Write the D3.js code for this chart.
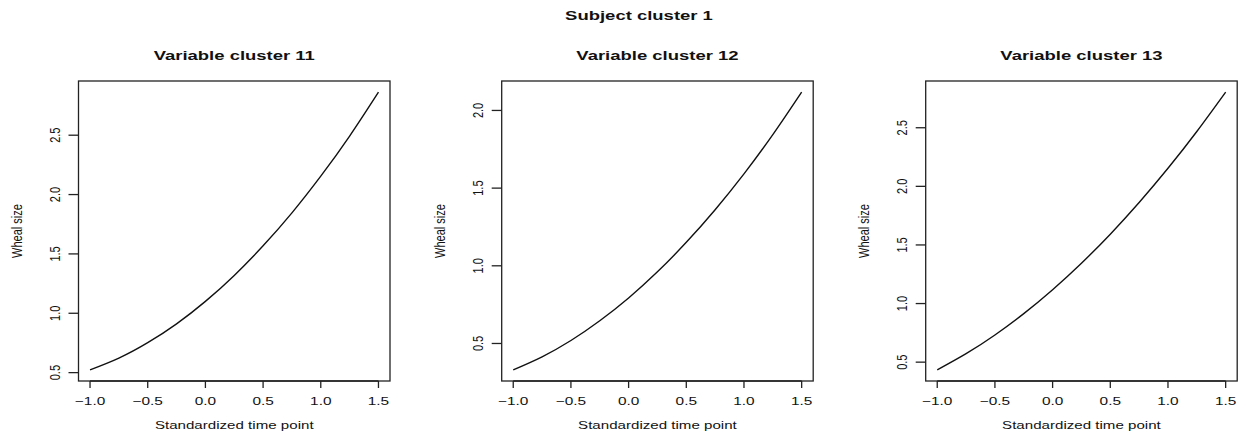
<!DOCTYPE html>
<html><head><meta charset="utf-8">
<script src="https://cdn.jsdelivr.net/npm/d3@7"></script>
<style>
body{margin:0;background:#fff;}
text{font-family:"Liberation Sans",Arial,Helvetica,sans-serif;fill:#111;}
</style></head>
<body><svg id="chart" width="1252" height="441"></svg>
<script>
// ---- data ----
const timePoints = [-1.0, -0.75, -0.5, -0.25, 0.0, 0.25, 0.5, 0.75, 1.0, 1.25, 1.5];
const panelTitles = ["Variable cluster 11", "Variable cluster 12", "Variable cluster 13"];
const wheal11 = [0.523, 0.622, 0.752, 0.911, 1.100, 1.319, 1.568, 1.846, 2.155, 2.493, 2.863];
const wheal12 = [0.330, 0.414, 0.519, 0.646, 0.793, 0.961, 1.151, 1.361, 1.592, 1.844, 2.118];
const wheal13 = [0.434, 0.572, 0.732, 0.914, 1.118, 1.344, 1.592, 1.862, 2.154, 2.468, 2.804];
const xTickValues = [-1.0, -0.5, 0.0, 0.5, 1.0, 1.5];
const yTickValues11 = [0.5, 1.0, 1.5, 2.0, 2.5];
const yTickValues12 = [0.5, 1.0, 1.5, 2.0];
const yTickValues13 = [0.5, 1.0, 1.5, 2.0, 2.5];
const mainTitle = "Subject cluster 1";
const xLabel = "Standardized time point";
const yLabel = "Wheal size";

const series = [wheal11, wheal12, wheal13];
const yTicks = [yTickValues11, yTickValues12, yTickValues13];

// ---- layout ----
const SX = 1.4;             // horizontal stretch of the original raster
const boxLefts = [78.5, 501.7, 925.7];
const boxW = 311.5;
const boxTop = 81, boxBottom = 381;
const fmt = d => d3.format(".1f")(d).replace("-", "\u2212");

const svg = d3.select("#chart");

svg.append("text")
  .attr("transform", `translate(639,20) scale(${SX},1)`)
  .attr("text-anchor", "middle")
  .style("font-weight", "bold").style("font-size", "13.2px")
  .text(mainTitle);

function pad(ext){ const r = ext[1]-ext[0]; return [ext[0]-0.04*r, ext[1]+0.04*r]; }

series.forEach((vals, i) => {
  const left = boxLefts[i];
  const g = svg.append("g");
  const x = d3.scaleLinear().domain(pad(d3.extent(timePoints))).range([left, left+boxW]);
  const y = d3.scaleLinear().domain(pad(d3.extent(vals))).range([boxBottom, boxTop]);

  // box
  g.append("rect").attr("x", left).attr("y", boxTop)
    .attr("width", boxW).attr("height", boxBottom-boxTop)
    .attr("fill", "none").attr("stroke", "#222").attr("stroke-width", 1.3);

  // x axis
  const xa = g.append("g");
  xa.append("line").attr("x1", x(xTickValues[0])).attr("x2", x(xTickValues[xTickValues.length-1]))
    .attr("y1", boxBottom).attr("y2", boxBottom).attr("stroke", "#222").attr("stroke-width", 1.3);
  xTickValues.forEach(t => {
    xa.append("line").attr("x1", x(t)).attr("x2", x(t)).attr("y1", boxBottom).attr("y2", boxBottom+7)
      .attr("stroke", "#222").attr("stroke-width", 1.3);
    xa.append("text").attr("transform", `translate(${x(t)},405) scale(${SX},1)`)
      .attr("text-anchor", "middle").style("font-size", "11px").text(fmt(t));
  });

  // y axis
  const ya = g.append("g");
  const yt = yTicks[i];
  yt.forEach(t => {
    ya.append("line").attr("x1", left-10).attr("x2", left).attr("y1", y(t)).attr("y2", y(t))
      .attr("stroke", "#222").attr("stroke-width", 1.3);
    ya.append("text").attr("transform", `translate(${left-19},${y(t)}) scale(${SX},1) rotate(-90)`)
      .attr("text-anchor", "middle").style("font-size", "11px").text(fmt(t));
  });

  // titles
  g.append("text").attr("transform", `translate(${left+boxW/2},60) scale(${SX},1)`)
    .attr("text-anchor", "middle").style("font-weight", "bold").style("font-size", "13.2px")
    .text(panelTitles[i]);
  g.append("text").attr("transform", `translate(${left+boxW/2},429) scale(${SX},1)`)
    .attr("text-anchor", "middle").style("font-size", "10.8px").text(xLabel);
  g.append("text").attr("transform", `translate(${left-57},${(boxTop+boxBottom)/2}) scale(${SX},1) rotate(-90)`)
    .attr("text-anchor", "middle").style("font-size", "11px").text(yLabel);

  // curve
  const line = d3.line().x((d, j) => x(timePoints[j])).y(d => y(d)).curve(d3.curveNatural);
  g.append("path").datum(vals).attr("d", line)
    .attr("fill", "none").attr("stroke", "#111").attr("stroke-width", 1.4);
});
</script></body></html>
